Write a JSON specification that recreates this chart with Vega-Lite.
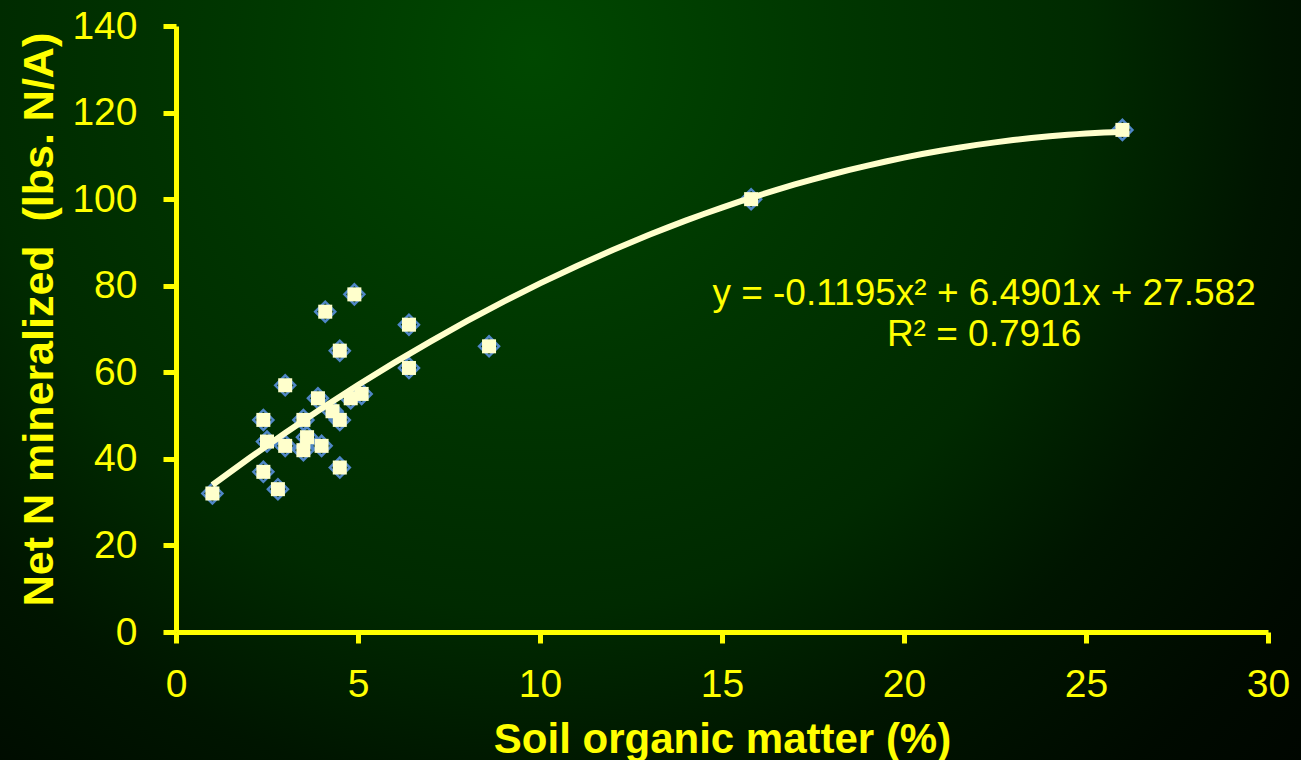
{
  "$schema": "https://vega.github.io/schema/vega-lite/v6.json",
  "width": 1301,
  "height": 760,
  "autosize": {"type": "none"},
  "padding": 0,
  "background": "#000000",
  "config": {
    "font": "Liberation Sans",
    "view": {
      "stroke": null,
      "fill": {
        "gradient": "radial",
        "x1": 0.41, "y1": 0.25, "r1": 0,
        "x2": 0.41, "y2": 0.25, "r2": 0.95,
        "stops": [
          {"offset": 0, "color": "#004800"},
          {"offset": 0.25, "color": "#003600"},
          {"offset": 0.45, "color": "#002a00"},
          {"offset": 0.6, "color": "#001500"},
          {"offset": 0.75, "color": "#000a00"},
          {"offset": 1, "color": "#000000"}
        ]
      }
    }
  },
  "layer": [
    {
      "data": {"name": "pts"},
      "mark": {"type": "point", "shape": "diamond", "filled": false, "stroke": "#4f86c6", "strokeWidth": 2.5, "size": 400, "opacity": 1},
      "encoding": {
        "x": {
          "field": "som", "type": "quantitative",
          "scale": {"domain": [0, 30], "range": [176, 1268], "nice": false, "zero": false},
          "axis": {
            "title": "Soil organic matter (%)",
            "values": [0, 5, 10, 15, 20, 25, 30],
            "offset": -128,
            "grid": false,
            "domainColor": "#ffff00", "domainWidth": 5,
            "tickColor": "#ffff00", "tickWidth": 5, "tickSize": 11,
            "labelColor": "#ffff00", "labelFontSize": 39, "labelFont": "Liberation Sans",
            "labelBaseline": "alphabetic", "labelPadding": 53, "labelFlush": false,
            "titleColor": "#ffff00", "titleFontSize": 42, "titleFontWeight": "bold", "titleFont": "Liberation Sans",
            "titleBaseline": "alphabetic", "titleY": 120
          }
        },
        "y": {
          "field": "n", "type": "quantitative",
          "scale": {"domain": [0, 140], "range": [632, 26], "nice": false, "zero": false},
          "axis": {
            "title": "Net N mineralized\u00a0 (lbs. N/A)",
            "values": [0, 20, 40, 60, 80, 100, 120, 140],
            "offset": -176,
            "grid": false,
            "domainColor": "#ffff00", "domainWidth": 5,
            "tickColor": "#ffff00", "tickWidth": 5, "tickSize": 13,
            "labelColor": "#ffff00", "labelFontSize": 39, "labelFont": "Liberation Sans",
            "labelPadding": 26, "labelFlush": false,
            "titleColor": "#ffff00", "titleFontSize": 43, "titleFontWeight": "bold", "titleFont": "Liberation Sans",
            "titleBaseline": "alphabetic", "titleAngle": -90, "titleX": -124, "titleY": 319
          }
        }
      }
    },
    {
      "data": {"name": "pts"},
      "mark": {"type": "square", "color": "#ffffcc", "size": 196, "opacity": 1},
      "encoding": {
        "x": {"field": "som", "type": "quantitative"},
        "y": {"field": "n", "type": "quantitative"}
      }
    },
    {
      "data": {"name": "pts"},
      "transform": [{"regression": "n", "on": "som", "method": "poly", "order": 2}],
      "mark": {"type": "line", "color": "#ffffcc", "strokeWidth": 6},
      "encoding": {
        "x": {"field": "som", "type": "quantitative"},
        "y": {"field": "n", "type": "quantitative"}
      }
    },
    {
      "data": {"name": "eq"},
      "mark": {"type": "text", "color": "#ffff00", "fontSize": 37, "font": "Liberation Sans", "align": "center", "baseline": "alphabetic"},
      "encoding": {
        "x": {"field": "ex", "type": "quantitative"},
        "y": {"field": "ey", "type": "quantitative"},
        "text": {"field": "line", "type": "nominal"}
      }
    }
  ],
  "datasets": {
    "pts": [
      {"som": 4.9, "n": 78}, {"som": 4.1, "n": 74}, {"som": 6.4, "n": 71},
      {"som": 4.5, "n": 65}, {"som": 6.4, "n": 61}, {"som": 3.0, "n": 57},
      {"som": 3.9, "n": 54}, {"som": 4.8, "n": 54}, {"som": 5.1, "n": 55},
      {"som": 4.3, "n": 51}, {"som": 2.4, "n": 49}, {"som": 3.5, "n": 49},
      {"som": 4.5, "n": 49}, {"som": 2.5, "n": 44}, {"som": 3.6, "n": 45},
      {"som": 3.0, "n": 43}, {"som": 4.0, "n": 43}, {"som": 3.5, "n": 42},
      {"som": 2.4, "n": 37}, {"som": 4.5, "n": 38}, {"som": 2.8, "n": 33},
      {"som": 1.0, "n": 32}, {"som": 8.6, "n": 66}, {"som": 15.8, "n": 100},
      {"som": 26.0, "n": 116}
    ],
    "eq": [
      {"line": "y = -0.1195x² + 6.4901x + 27.582", "ex": 22.2, "ey": 75.6},
      {"line": "R² = 0.7916", "ex": 22.2, "ey": 66.0}
    ]
  }
}
